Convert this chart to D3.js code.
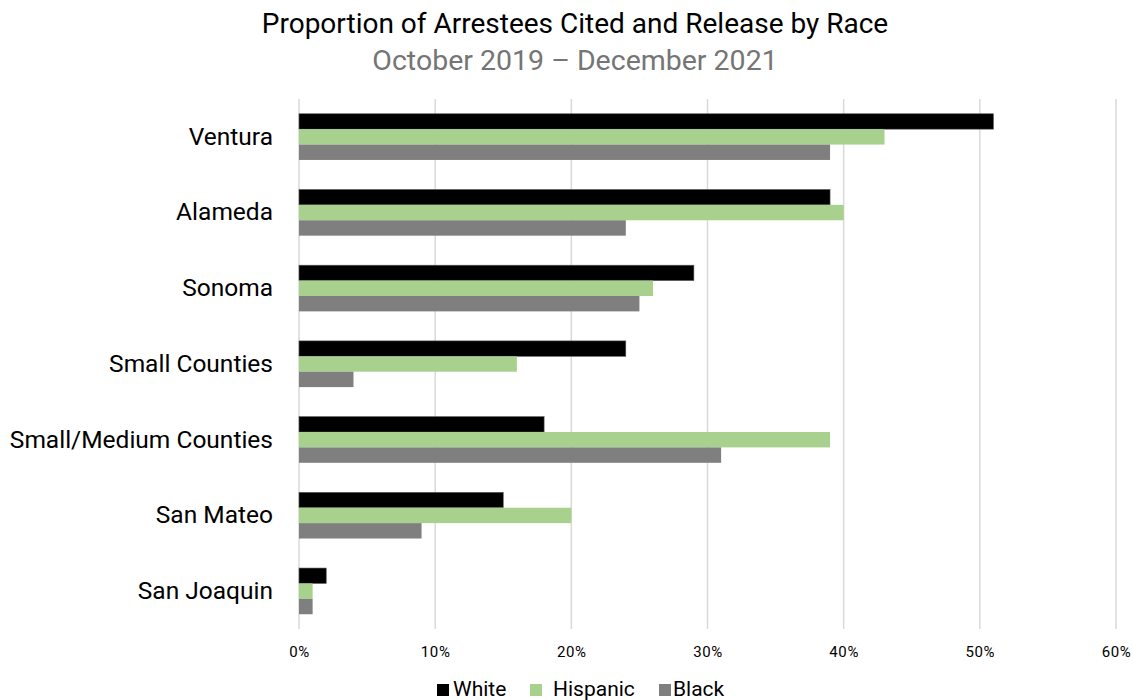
<!DOCTYPE html>
<html>
<head>
<meta charset="utf-8">
<script src="https://cdn.jsdelivr.net/npm/d3@7"></script>
<style>
  html, body { margin: 0; padding: 0; background: #fff; }
  svg { display: block; font-family: Roboto, "Noto Sans", sans-serif; }
</style>
</head>
<body>
<svg id="chart" width="1133" height="700"></svg>
<script>
// Counties, top to bottom
const counties = ["Ventura", "Alameda", "Sonoma", "Small Counties",
  "Small/Medium Counties", "San Mateo", "San Joaquin"];
const races = ["White", "Hispanic", "Black"];
const raceColors = ["#000000", "#a9d18e", "#7f7f7f"];

// Share of arrestees cited and released (%)
const whiteValues = [51, 39, 29, 24, 18, 15, 2];
const hispanicValues = [43, 40, 26, 16, 39, 20, 1];
const blackValues = [39, 24, 25, 4, 31, 9, 1];

const tickValues = [0, 10, 20, 30, 40, 50, 60];

const seriesValues = [whiteValues, hispanicValues, blackValues];
const rows = counties.map((c, i) => ({
  county: c,
  values: races.map((r, j) => ({ race: r, value: seriesValues[j][i] }))
}));

const svg = d3.select("#chart");
const margin = { left: 299, right: 17, top: 99, bottom: 71 };
const width = 1133, height = 700;

const x = d3.scaleLinear().domain([0, 60]).range([margin.left, width - margin.right]);
const y = d3.scaleBand().domain(counties)
  .range([margin.top, height - margin.bottom]).paddingInner(0.39).paddingOuter(0.195);
const ySub = d3.scaleBand().domain(races).range([0, y.bandwidth()]);
const color = d3.scaleOrdinal().domain(races).range(raceColors);

// Title and subtitle
svg.append("text").attr("x", 575).attr("y", 33).attr("text-anchor", "middle")
  .attr("font-size", 28).attr("fill", "#000")
  .text("Proportion of Arrestees Cited and Release by Race");
svg.append("text").attr("x", 575).attr("y", 70).attr("text-anchor", "middle")
  .attr("font-size", 28.5).attr("fill", "#757575")
  .text("October 2019 \u2013 December 2021");

// Vertical gridlines
svg.append("g").selectAll("line").data(tickValues).join("line")
  .attr("x1", d => x(d)).attr("x2", d => x(d))
  .attr("y1", margin.top).attr("y2", height - margin.bottom)
  .attr("stroke", "#d9d9d9").attr("stroke-width", 1.5);

// Bars
const groups = svg.append("g").selectAll("g").data(rows).join("g")
  .attr("transform", d => `translate(0,${y(d.county)})`);
groups.selectAll("rect").data(d => d.values).join("rect")
  .attr("x", x(0))
  .attr("y", d => ySub(d.race))
  .attr("width", d => x(d.value) - x(0))
  .attr("height", ySub.bandwidth())
  .attr("fill", d => color(d.race))
  .attr("stroke", d => d.race === "White" ? "#595959" : "none")
  .attr("stroke-width", 0.6);

// Category axis labels
const yAxis = d3.axisLeft(y).tickSize(0).tickPadding(26);
svg.append("g").attr("transform", `translate(${x(0)},0)`).call(yAxis)
  .call(g => g.select(".domain").remove())
  .selectAll("text").attr("font-size", 24.5).attr("fill", "#000")
  .attr("font-family", "Roboto, 'Noto Sans', sans-serif");

// Value axis labels
const xAxis = d3.axisBottom(x).tickValues(tickValues).tickFormat(d => d + "%")
  .tickSize(0).tickPadding(17);
svg.append("g").attr("transform", `translate(0,${height - margin.bottom})`).call(xAxis)
  .call(g => g.select(".domain").remove())
  .selectAll("text").attr("font-size", 15).attr("letter-spacing", 0.6).attr("fill", "#000")
  .attr("font-family", "Roboto, 'Noto Sans', sans-serif");

// Legend
const legendSwatchX = [437, 530, 659];
const legendTextX = [453, 553, 673];
const legend = svg.append("g").selectAll("g").data(races).join("g");
legend.append("rect").attr("x", (d, i) => legendSwatchX[i]).attr("y", 684)
  .attr("width", 12).attr("height", 12).attr("fill", d => color(d));
legend.append("text").attr("x", (d, i) => legendTextX[i]).attr("y", 696)
  .attr("font-size", 21).attr("fill", "#000").text(d => d);
</script>
</body>
</html>
